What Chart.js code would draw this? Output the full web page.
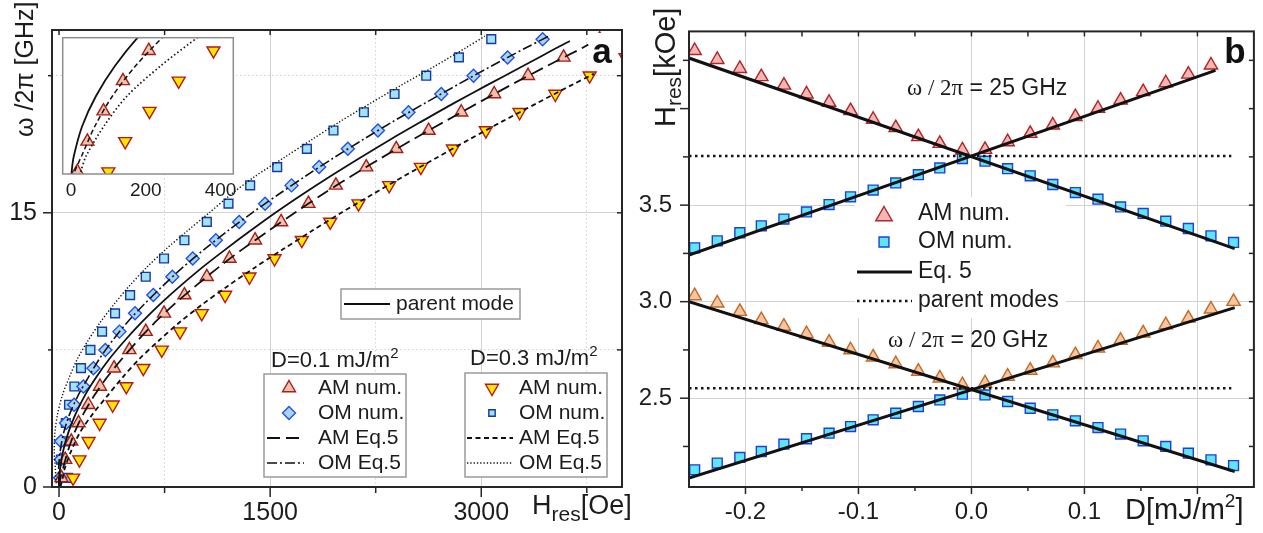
<!DOCTYPE html>
<html>
<head>
<meta charset="utf-8">
<title>Resonance field: frequency and DMI dependence</title>
<script src="https://cdn.jsdelivr.net/npm/chart.js@4.4.1/dist/chart.umd.min.js"></script>
<style>
  html, body { margin: 0; padding: 0; background: #fff; }
  #wrap { position: relative; width: 1263px; height: 533px; overflow: hidden; background: #fff; }
  #wrap canvas { position: absolute; }
</style>
</head>
<body>
<div id="wrap">
  <canvas id="panelA" width="632" height="533" style="left:0;top:0"></canvas>
  <canvas id="inset" width="220" height="190" style="left:40px;top:20px"></canvas>
  <canvas id="panelB" width="631" height="533" style="left:632px;top:0"></canvas>
</div>
<script>
// Chart.js comes from the CDN line above as the UMD global `Chart`.

const SANS = '"Liberation Sans", Arial, sans-serif';
const SERIF = '"Liberation Serif", "Times New Roman", serif';
const INK = '#1c1c1c';
const FRAME = '#262626';
const GRID = '#d2d2d2';
const NONE = 'rgba(0,0,0,0)';

Chart.defaults.font.family = SANS;
Chart.defaults.color = INK;

// ---------------- panel a : omega/2pi [GHz] vs H_res [Oe] ----------------
const numFreq = [0.5, 1.5, 2.5, 3.5, 4.5, 5.5, 6.5, 7.5, 8.5, 9.5, 10.5, 11.5, 12.5,
  13.5, 14.5, 15.5, 16.5, 17.5, 18.5, 19.5, 20.5, 21.5, 22.5, 23.5, 24.5];
// numerical points (field in Oe), D = 0.1 mJ/m^2
const amD1Field = [17, 44, 87, 139, 208, 291, 391, 500, 616, 746, 891, 1050, 1211,
  1393, 1578, 1772, 1967, 2183, 2396, 2626, 2858, 3092, 3332, 3585, 3841];
const omD1Field = [7, 12, 14, 50, 107, 173, 244, 329, 429, 540, 670, 805, 950,
  1114, 1280, 1464, 1652, 1848, 2052, 2266, 2483, 2716, 2945, 3187, 3436];
// numerical points, D = 0.3 mJ/m^2
const amD3Field = [100, 145, 210, 288, 381, 478, 599, 730, 860, 1014, 1180, 1353, 1531,
  1725, 1927, 2128, 2346, 2571, 2799, 3033, 3272, 3526, 3770, 4025];
const omD3Field = [64, 14, 35, 48, 71, 109, 156, 223, 306, 398, 505, 616, 746,
  891, 1050, 1204, 1358, 1550, 1761, 1950, 2166, 2384, 2609, 2841, 3071];

// curves
const parentFreq = [0, 0.5, 1, 2, 3, 4, 5, 6, 7, 8, 9, 10, 11, 12, 13, 14, 15, 16, 17, 18, 19, 20, 21, 22, 23, 24, 24.4];
const parentField = [0, 2, 7.5, 30, 67, 118, 183, 264, 357, 466, 586, 718, 862, 1016, 1183, 1357, 1537, 1728, 1928, 2137, 2352, 2577, 2806, 3045, 3290, 3530, 3630];
const amD1LineFreq = [0, 0.5, 1, 2, 3, 4, 5, 6, 7, 8, 9, 10, 11, 12, 13, 14, 15, 16, 17, 18, 19, 20, 21, 22, 23, 24, 24.2];
const amD1LineField = [0, 10, 28, 64, 111, 173, 250, 341, 446, 558, 681, 819, 971, 1131, 1302, 1486, 1675, 1870, 2075, 2290, 2511, 2742, 2975, 3212, 3459, 3713, 3760];
const omD1LineFreq = [0, 1, 2, 3, 4, 5, 6, 7, 8, 9, 10, 11, 12, 13, 14, 15, 16, 17, 18, 19, 20, 21, 22, 23, 24, 24.7];
const omD1LineField = [0, -3, 9, 34, 76, 135, 208, 286, 379, 484, 605, 737, 877, 1032, 1197, 1372, 1558, 1750, 1950, 2159, 2375, 2600, 2830, 3066, 3311, 3490];
const amD3LineFreq = [0, 0.5, 1, 2, 3, 4, 5, 6, 7, 8, 9, 10, 11, 12, 13, 14, 15, 16, 17, 18, 19, 20, 21, 22, 22.6];
const amD3LineField = [10, 26, 40, 88, 150, 240, 345, 452, 570, 708, 855, 1020, 1200, 1390, 1590, 1795, 2005, 2225, 2450, 2680, 2912, 3150, 3397, 3645, 3800];
const omD3LineFreq = [0.2, 1, 2, 3, 4, 5, 6, 7, 8, 9, 10, 11, 12, 13, 14, 15, 16, 17, 18, 19, 20, 21, 22, 23, 24, 24.66];
const omD3LineField = [-20, -26, -34, -29, -10, 23, 73, 130, 205, 292, 391, 500, 621, 758, 910, 1067, 1221, 1394, 1595, 1795, 1998, 2215, 2436, 2665, 2885, 3025];

const aTickH = [0, 750, 1500, 2250, 3000, 3750];
const aMajorH = [0, 1500, 3000];
const aTickF = [0, 7.5, 15, 22.5];
const aMajorF = [0, 15];
const insetTickH = [0, 200, 400];

// ---------------- panel b : H_res [kOe] vs D [mJ/m^2] ----------------
const bD = [-0.245, -0.225, -0.205, -0.186, -0.166, -0.146, -0.126, -0.107, -0.087, -0.067, -0.047, -0.028,
  -0.008, 0.012, 0.032, 0.052, 0.072, 0.092, 0.112, 0.132, 0.152, 0.172, 0.192, 0.212, 0.232];
const am25 = [4.300, 4.254, 4.207, 4.165, 4.121, 4.075, 4.032, 3.989, 3.944, 3.901, 3.854, 3.819,
  3.785, 3.788, 3.828, 3.871, 3.914, 3.958, 4.001, 4.043, 4.087, 4.133, 4.178, 4.225, 4.268];
const om25 = [3.279, 3.315, 3.357, 3.393, 3.428, 3.465, 3.503, 3.543, 3.578, 3.615, 3.658, 3.693,
  3.741, 3.728, 3.689, 3.652, 3.607, 3.565, 3.531, 3.491, 3.457, 3.417, 3.379, 3.341, 3.307];
const am20 = [3.030, 2.992, 2.949, 2.906, 2.872, 2.833, 2.789, 2.750, 2.713, 2.678, 2.639, 2.604,
  2.569, 2.578, 2.613, 2.644, 2.682, 2.725, 2.759, 2.799, 2.837, 2.880, 2.914, 2.961, 3.001];
const om20 = [2.129, 2.164, 2.193, 2.224, 2.262, 2.290, 2.319, 2.353, 2.388, 2.422, 2.457, 2.491,
  2.521, 2.517, 2.483, 2.448, 2.414, 2.383, 2.348, 2.314, 2.279, 2.250, 2.215, 2.181, 2.151];
// Eq. 5 lines (end points) and parent modes
const eq25FallD = [-0.25, 0.233], eq25FallH = [4.262, 3.275];
const eq25RiseD = [-0.25, 0.216], eq25RiseH = [3.241, 4.198];
const eq20FallD = [-0.25, 0.233], eq20FallH = [3.0, 2.12];
const eq20RiseD = [-0.25, 0.233], eq20RiseH = [2.086, 2.969];
const parentD = [-0.25, 0.23], parent25H = [3.755, 3.755], parent20H = [2.551, 2.551];

const bTickD = [-0.2, -0.15, -0.1, -0.05, 0, 0.05, 0.1, 0.15, 0.2];
const bMajorD = [-0.2, -0.1, 0, 0.1, 0.2];
const bLabelD = [-0.2, -0.1, 0, 0.1];
const bTickH = [2.25, 2.5, 2.75, 3, 3.25, 3.5, 3.75, 4, 4.25];
const bMajorH = [2.5, 3, 3.5, 4];
const bLabelH = [2.5, 3, 3.5];

// ---------------- styles ----------------
const ST = {
  amD1: { shape: 'triangle', rot: 0, r: 7.5, fill: '#eec2ad', edge: '#a51f17' },
  omD1: { shape: 'rectRot', rot: 0, r: 6.5, fill: '#a7d3f4', edge: '#2152e0' },
  amD3: { shape: 'triangle', rot: 180, r: 7.5, fill: '#ffe600', edge: '#b3191a' },
  omD3: { shape: 'rect', rot: 0, r: 6.2, fill: '#9fe3f6', edge: '#1b379f' },
  am25: { shape: 'triangle', rot: 0, r: 7.7, fill: '#f5b5b5', edge: '#b02525' },
  am20: { shape: 'triangle', rot: 0, r: 7.7, fill: '#f7c59e', edge: '#c26a28' },
  omB: { shape: 'rect', rot: 0, r: 7, fill: '#5ee6f6', edge: '#1f3fd6' },
};
const LN = {
  parent: { dash: [], w: 1.8 },
  amD1: { dash: [13, 6], w: 1.8 },
  omD1: { dash: [10, 3, 2, 3], w: 1.6 },
  amD3: { dash: [5, 3.5], w: 1.8 },
  omD3: { dash: [1.3, 2], w: 1.4 },
  insetAmD1: { dash: [5, 3], w: 1.5 },
  insetAmD3: { dash: [1.5, 2.5], w: 1.7 },
  eq5: { dash: [], w: 3, tension: 0 },
  parentB: { dash: [2.5, 3.5], w: 2.5, tension: 0 },
};

// ---------------- helpers ----------------
const has = (arr, v) => arr.some(a => Math.abs(a - v) < 1e-9);
const xy = (xs, ys) => xs.map((x, i) => ({ x, y: ys[i] }));

function curve(label, xs, ys, st) {
  return {
    label, data: xy(xs, ys), showLine: true, fill: false,
    borderColor: '#111', borderWidth: st.w, borderDash: st.dash,
    tension: st.tension ?? 0.3, pointRadius: 0, pointHoverRadius: 0, order: 0,
  };
}
function marks(label, xs, ys, st) {
  return {
    label, data: xy(xs, ys), showLine: false,
    pointStyle: st.shape, pointRotation: st.rot, pointRadius: st.r, pointHoverRadius: st.r,
    pointBackgroundColor: st.fill, pointBorderColor: st.edge, pointBorderWidth: 1.4,
    backgroundColor: st.fill, borderColor: st.edge, order: 1,
  };
}
function axis(o) {
  return {
    type: 'linear', min: o.min, max: o.max,
    afterBuildTicks: s => { s.ticks = o.ticks.map(value => ({ value })); },
    afterFit: s => {
      if (o.width != null) s.width = o.width;
      if (o.height != null) s.height = o.height;
    },
    ticks: {
      autoSkip: false, maxRotation: 0, padding: o.pad, color: INK, font: { size: o.font },
      callback: v => has(o.labels, v) ? o.fmt(v) : '',
    },
    grid: { drawTicks: false, lineWidth: 1, color: c => (c.tick && has(o.grid, c.tick.value)) ? GRID : NONE },
    border: { display: false, dash: c => (c.tick && has(o.dotted || [], c.tick.value)) ? [1.5, 2.5] : [] },
  };
}

function drawTicks(chart, spec) {
  const { ctx, chartArea: a } = chart;
  ctx.save();
  ctx.strokeStyle = FRAME;
  ctx.lineWidth = 1.5;
  for (const s of spec) {
    const scale = chart.scales[s.axis];
    for (const v of s.values) {
      const len = has(s.majors, v) ? s.major : s.minor;
      const p = scale.getPixelForValue(v);
      ctx.beginPath();
      if (s.side === 'bottom') { ctx.moveTo(p, a.bottom); ctx.lineTo(p, a.bottom + len); }
      if (s.side === 'top') { ctx.moveTo(p, a.top); ctx.lineTo(p, a.top + len); }
      if (s.side === 'left') { ctx.moveTo(a.left, p); ctx.lineTo(a.left - len, p); }
      if (s.side === 'right') { ctx.moveTo(a.right, p); ctx.lineTo(a.right - len, p); }
      ctx.stroke();
    }
  }
  ctx.strokeStyle = FRAME;
  ctx.lineWidth = 2;
  ctx.strokeRect(a.left, a.top, a.right - a.left, a.bottom - a.top);
  ctx.restore();
}

// same geometry as Chart.js point styles, for the legends
function drawMark(ctx, st, x, y, r) {
  r = r || st.r;
  ctx.save();
  ctx.translate(x, y);
  ctx.rotate((st.rot || 0) * Math.PI / 180);
  ctx.beginPath();
  if (st.shape === 'triangle') {
    for (let k = 0; k < 3; k++) {
      const t = k * 2 * Math.PI / 3;
      ctx.lineTo(Math.sin(t) * r, -Math.cos(t) * r);
    }
  } else if (st.shape === 'rectRot') {
    ctx.moveTo(0, -r); ctx.lineTo(r, 0); ctx.lineTo(0, r); ctx.lineTo(-r, 0);
  } else {
    const s = r * Math.SQRT1_2;
    ctx.rect(-s, -s, 2 * s, 2 * s);
  }
  ctx.closePath();
  ctx.fillStyle = st.fill;
  ctx.fill();
  ctx.lineWidth = 1.4;
  ctx.strokeStyle = st.edge;
  ctx.stroke();
  ctx.restore();
}
function sample(ctx, x0, x1, y, st) {
  ctx.save();
  ctx.strokeStyle = '#111';
  ctx.lineWidth = st.w;
  ctx.setLineDash(st.dash);
  ctx.beginPath(); ctx.moveTo(x0, y); ctx.lineTo(x1, y); ctx.stroke();
  ctx.restore();
}
function text(ctx, t, x, y, size) {
  ctx.save();
  ctx.fillStyle = INK;
  ctx.font = `${size}px ${SANS}`;
  ctx.textAlign = 'left';
  ctx.textBaseline = 'middle';
  ctx.fillText(t, x, y);
  ctx.restore();
}
// parts: [string, size, baseline shift, family]
function rich(ctx, parts, x, y, rotate) {
  ctx.save();
  ctx.fillStyle = INK;
  ctx.textAlign = 'left';
  ctx.textBaseline = 'alphabetic';
  ctx.translate(x, y);
  if (rotate) ctx.rotate(-Math.PI / 2);
  let cx = 0;
  for (const [t, size, dy = 0, fam = SANS] of parts) {
    ctx.font = `${size}px ${fam}`;
    ctx.fillText(t, cx, dy);
    cx += ctx.measureText(t).width;
  }
  ctx.restore();
}
function box(ctx, x0, y0, x1, y1, stroke) {
  ctx.save();
  ctx.fillStyle = '#fff';
  ctx.fillRect(x0, y0, x1 - x0, y1 - y0);
  if (stroke) {
    ctx.strokeStyle = stroke;
    ctx.lineWidth = 1.5;
    ctx.strokeRect(x0, y0, x1 - x0, y1 - y0);
  }
  ctx.restore();
}
function tag(ctx, t, x, y, bx0, by0, bx1, by1) {
  box(ctx, bx0, by0, bx1, by1);
  ctx.save();
  ctx.fillStyle = '#111';
  ctx.font = `bold 35px ${SANS}`;
  ctx.textAlign = 'center';
  ctx.textBaseline = 'alphabetic';
  ctx.fillText(t, x, y);
  ctx.restore();
}

const baseOptions = {
  responsive: false,
  animation: false,
  events: [],
  plugins: { legend: { display: false }, tooltip: { enabled: false } },
};

// ---------------- panel a ----------------
new Chart(document.getElementById('panelA'), {
  type: 'scatter',
  data: {
    datasets: [
      curve('parent mode', parentField, parentFreq, LN.parent),
      curve('AM Eq.5 (D=0.1)', amD1LineField, amD1LineFreq, LN.amD1),
      curve('OM Eq.5 (D=0.1)', omD1LineField, omD1LineFreq, LN.omD1),
      curve('AM Eq.5 (D=0.3)', amD3LineField, amD3LineFreq, LN.amD3),
      curve('OM Eq.5 (D=0.3)', omD3LineField, omD3LineFreq, LN.omD3),
      marks('AM num. (D=0.1)', amD1Field, numFreq, ST.amD1),
      marks('OM num. (D=0.1)', omD1Field, numFreq, ST.omD1),
      marks('AM num. (D=0.3)', amD3Field, numFreq, ST.amD3),
      marks('OM num. (D=0.3)', omD3Field, numFreq, ST.omD3),
    ],
  },
  options: {
    ...baseOptions,
    layout: { padding: { left: 0, top: 28, right: 10, bottom: 0 } },
    scales: {
      x: axis({ min: -50, max: 4000, ticks: aTickH, labels: aMajorH, grid: [750, 1500, 2250, 3000, 3750],
        dotted: [750, 2250, 3750], fmt: v => String(v), pad: 11, font: 25, height: 46 }),
      y: axis({ min: 0, max: 25, ticks: aTickF, labels: aMajorF, grid: [7.5, 15, 22.5],
        dotted: [7.5, 22.5], fmt: v => String(v), pad: 15, font: 25, width: 52 }),
    },
  },
  plugins: [{
    id: 'panelAOverlay',
    afterDraw(chart) {
      const ctx = chart.ctx;
      // legends
      box(ctx, 341, 289, 520, 319, '#9a9a9a');
      sample(ctx, 344, 390, 304, LN.parent);
      text(ctx, 'parent mode', 396, 304, 21);

      rich(ctx, [['D=0.1 mJ/m', 22], ['2', 15, -9]], 271, 367);
      box(ctx, 264, 374, 406, 477, '#9a9a9a');
      drawMark(ctx, ST.amD1, 289, 388);
      text(ctx, 'AM num.', 318, 388, 21);
      drawMark(ctx, ST.omD1, 289, 413);
      text(ctx, 'OM num.', 318, 413, 21);
      sample(ctx, 267, 304, 438, LN.amD1);
      text(ctx, 'AM Eq.5', 318, 438, 21);
      sample(ctx, 267, 304, 463, LN.omD1);
      text(ctx, 'OM Eq.5', 318, 463, 21);

      rich(ctx, [['D=0.3 mJ/m', 22], ['2', 15, -9]], 470, 365);
      box(ctx, 465, 373, 607, 477, '#9a9a9a');
      drawMark(ctx, ST.amD3, 492, 388);
      text(ctx, 'AM num.', 519, 388, 21);
      drawMark(ctx, ST.omD3, 492, 413, 4.5);
      text(ctx, 'OM num.', 519, 413, 21);
      sample(ctx, 467, 513, 438, LN.amD3);
      text(ctx, 'AM Eq.5', 519, 438, 21);
      sample(ctx, 467, 513, 463, LN.omD3);
      text(ctx, 'OM Eq.5', 519, 463, 21);

      // axis titles
      rich(ctx, [['\u03c9 /2\u03c0 [GHz]', 25]], 33, 137, true);
      rich(ctx, [['H', 27], ['res', 21, 7], ['[Oe]', 27]], 532, 514);

      tag(ctx, 'a', 602, 63, 589, 33, 618, 67);
      drawTicks(chart, [
        { axis: 'x', side: 'bottom', values: aTickH, majors: aMajorH, major: 10, minor: 6 },
        { axis: 'x', side: 'top', values: aTickH, majors: aMajorH, major: 5, minor: 5 },
        { axis: 'y', side: 'left', values: aTickF, majors: aMajorF, major: 9, minor: 4 },
        { axis: 'y', side: 'right', values: aTickF, majors: aMajorF, major: 5, minor: 5 },
      ]);
    },
  }],
});

// ---------------- inset of panel a (low field) ----------------
new Chart(document.getElementById('inset'), {
  type: 'scatter',
  data: {
    datasets: [
      curve('parent mode', parentField, parentFreq, LN.parent),
      curve('AM Eq.5 (D=0.1)', amD1LineField, amD1LineFreq, LN.insetAmD1),
      curve('AM Eq.5 (D=0.3)', amD3LineField, amD3LineFreq, LN.insetAmD3),
      marks('AM num. (D=0.1)', amD1Field, numFreq, ST.amD1),
      marks('AM num. (D=0.3)', amD3Field, numFreq, ST.amD3),
    ],
  },
  options: {
    ...baseOptions,
    layout: { padding: { left: 22.7, top: 17.7, right: 26.7, bottom: 0 } },
    scales: {
      x: {
        type: 'linear', min: -22, max: 434,
        afterBuildTicks: s => { s.ticks = insetTickH.map(value => ({ value })); },
        afterFit: s => { s.height = 36; },
        ticks: { autoSkip: false, maxRotation: 0, padding: 5, color: INK, font: { size: 19 } },
        grid: { display: false, drawTicks: false },
        border: { display: false },
      },
      y: { type: 'linear', display: false, min: 0.42, max: 4.93 },
    },
  },
  plugins: [{
    id: 'insetFrame',
    beforeDatasetsDraw(chart) {
      const a = chart.chartArea;
      chart.ctx.save();
      chart.ctx.fillStyle = '#fff';
      chart.ctx.fillRect(a.left, a.top, a.right - a.left, a.bottom - a.top);
      chart.ctx.restore();
    },
    afterDraw(chart) {
      const { ctx, chartArea: a } = chart;
      ctx.save();
      ctx.strokeStyle = '#8e8e8e';
      ctx.lineWidth = 1.5;
      ctx.strokeRect(a.left, a.top, a.right - a.left, a.bottom - a.top);
      ctx.restore();
    },
  }],
});

// ---------------- panel b ----------------
new Chart(document.getElementById('panelB'), {
  type: 'scatter',
  data: {
    datasets: [
      curve('Eq. 5 (25 GHz)', eq25FallD, eq25FallH, LN.eq5),
      curve('Eq. 5 (25 GHz) ', eq25RiseD, eq25RiseH, LN.eq5),
      curve('Eq. 5 (20 GHz)', eq20FallD, eq20FallH, LN.eq5),
      curve('Eq. 5 (20 GHz) ', eq20RiseD, eq20RiseH, LN.eq5),
      curve('parent modes (25 GHz)', parentD, parent25H, LN.parentB),
      curve('parent modes (20 GHz)', parentD, parent20H, LN.parentB),
      marks('AM num. 25 GHz', bD, am25, ST.am25),
      marks('OM num. 25 GHz', bD, om25, ST.omB),
      marks('AM num. 20 GHz', bD, am20, ST.am20),
      marks('OM num. 20 GHz', bD, om20, ST.omB),
    ],
  },
  options: {
    ...baseOptions,
    layout: { padding: { left: 0, top: 28, right: 6, bottom: 0 } },
    scales: {
      x: axis({ min: -0.25, max: 0.25, ticks: bTickD, labels: bLabelD, grid: bMajorD,
        fmt: v => v.toFixed(1), pad: 11, font: 24, height: 46 }),
      y: axis({ min: 2.04, max: 4.40, ticks: bTickH, labels: bLabelH, grid: bLabelH,
        fmt: v => v.toFixed(1), pad: 17, font: 24, width: 57 }),
    },
  },
  plugins: [{
    id: 'panelBLegendBack',
    beforeDatasetsDraw(chart) {
      box(chart.ctx, 223, 197, 434, 318);
    },
  }, {
    id: 'panelBOverlay',
    afterDraw(chart) {
      const ctx = chart.ctx;
      drawMark(ctx, ST.am25, 252, 216, 9.5);
      text(ctx, 'AM num.', 286, 214, 23);
      drawMark(ctx, ST.omB, 252, 242);
      text(ctx, 'OM num.', 286, 242, 23);
      sample(ctx, 225, 280, 272, LN.eq5);
      text(ctx, 'Eq. 5', 286, 272, 23);
      sample(ctx, 225, 280, 301, LN.parentB);
      text(ctx, 'parent modes', 286, 301, 23);

      rich(ctx, [['\u03c9 / 2\u03c0', 23, 0, SERIF], [' = 25 GHz', 23]], 275, 95);
      rich(ctx, [['\u03c9 / 2\u03c0', 23, 0, SERIF], [' = 20 GHz', 23]], 256, 347);

      rich(ctx, [['H', 29], ['res', 21, 6], ['[kOe]', 29]], 43, 127, true);
      rich(ctx, [['D[mJ/m', 29], ['2', 19, -12], [']', 29]], 493, 519);

      tag(ctx, 'b', 603, 63, 589, 33, 622, 68);
      drawTicks(chart, [
        { axis: 'x', side: 'bottom', values: bTickD, majors: bMajorD, major: 7, minor: 4 },
        { axis: 'x', side: 'top', values: bTickD, majors: bMajorD, major: 5, minor: 5 },
        { axis: 'y', side: 'left', values: bTickH, majors: bMajorH, major: 9, minor: 6 },
        { axis: 'y', side: 'right', values: bTickH, majors: bMajorH, major: 5, minor: 5 },
      ]);
    },
  }],
});
</script>
</body>
</html>
